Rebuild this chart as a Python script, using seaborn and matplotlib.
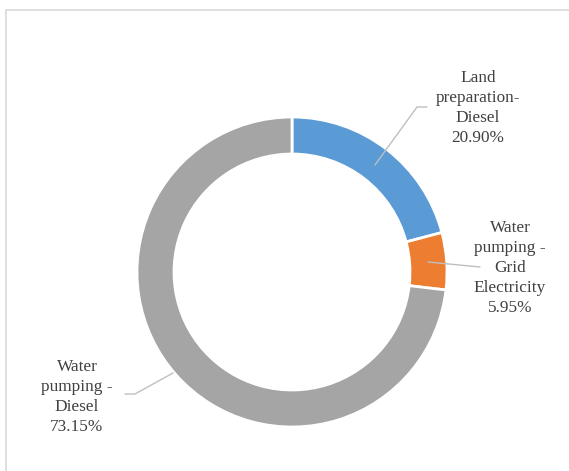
import matplotlib
matplotlib.use("Agg")
import matplotlib.pyplot as plt
from matplotlib.patches import Rectangle
import seaborn as sns

categories = ["Land\npreparation-\nDiesel", "Water\npumping -\nGrid\nElectricity", "Water\npumping -\nDiesel"]
shares = [20.90, 5.95, 73.15]
colors = ["#5B9BD5", "#ED7D31", "#A5A5A5"]

sns.set_theme(style="white")
plt.rcParams["font.family"] = ["Liberation Serif", "DejaVu Serif"]

W, H = 569, 471
fig = plt.figure(figsize=(W / 100, H / 100), dpi=100)
fig.patch.set_facecolor("white")
ax = fig.add_axes([0, 0, 1, 1])

cx, cy, R = 292, H - 272, 155
ax.pie(shares, colors=colors, startangle=90, counterclock=False, center=(cx, cy), radius=R,
       wedgeprops=dict(width=37, edgecolor="white", linewidth=2))
ax.set_xlim(0, W)
ax.set_ylim(0, H)
ax.set_aspect("equal")
ax.axis("off")

# chart border
fig.patches.append(Rectangle((6 / W, 0 - 0.01), 1.0, (H - 10) / H + 0.01, transform=fig.transFigure,
                             fill=False, edgecolor="#D9D9D9", linewidth=1.2))

label_pos = [(478, 108), (510, 268), (77, 397)]
leaders = [
    [(375, 165), (417, 107), (427, 107)],
    [(428, 262), (480, 267)],
    [(173, 373), (135, 394), (125, 394)],
]
for cat, val, (lx, ly), pts in zip(categories, shares, label_pos, leaders):
    ax.text(lx, H - ly, f"{cat}\n{val:.2f}%", ha="center", va="center", fontsize=12.4,
            color="#404040", linespacing=1.32)
    ax.plot([p[0] for p in pts], [H - p[1] for p in pts], color="#BFBFBF", lw=1)

fig.savefig("out.png", dpi=100, facecolor="white")
